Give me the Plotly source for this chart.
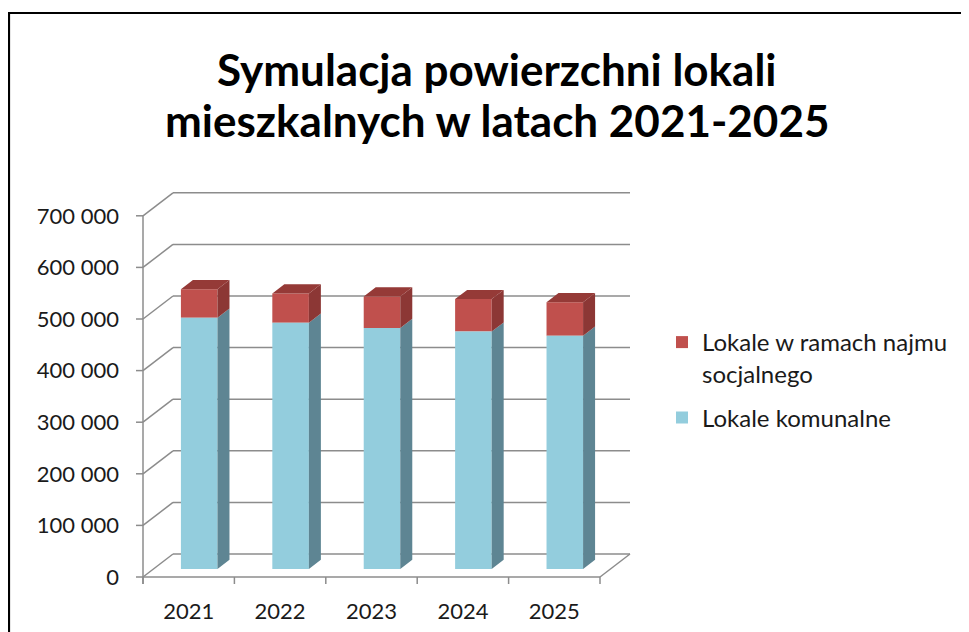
import plotly.graph_objects as go

# ---------------- data ----------------
years = ["2021", "2022", "2023", "2024", "2025"]
komunalne = [487000, 477000, 467000, 460000, 452000]
socjalne = [55000, 57000, 61000, 63000, 65000]
y_ticks = [0, 100000, 200000, 300000, 400000, 500000, 600000, 700000]
y_tick_text = ["0", "100 000", "200 000", "300 000", "400 000", "500 000", "600 000", "700 000"]
series_names = ["Lokale komunalne", "Lokale w ramach najmu<br>socjalnego"]
title_lines = ["Symulacja powierzchni lokali", "mieszkalnych w latach 2021-2025"]

# ---------------- layout geometry (reference pixels) ----------------
W, H = 969, 632
OFF = 8                                   # page body margin of the html page
PL, PR, PT, PB = 130, 645, 185, 590       # plot area
X0_PX, X_UNIT = 143, 91.4                 # front-left corner, px per category
Y0_PX, Y_UNIT = 577, 51.6                 # value 0 (front), px per 100 000
VPP = 100000 / Y_UNIT                     # value per pixel
DEPTH_DX_PX, DEPTH_DY_PX = 30, 23         # 3-D depth offset of back wall
BAR_FRONT, BAR_BACK = 0.35, 0.75          # bar depth fractions
BAR_W = 0.4

def xpx(p):
    return p / X_UNIT

def ypx(p):
    return p * VPP

def paper_x(p):
    return (p - PL) / (PR - PL)

def paper_y(p):
    return (PB - p) / (PB - PT)

x_range = [-0.5 - xpx(X0_PX - PL), -0.5 + xpx(PR - X0_PX)]
y_range = [-ypx(PB - Y0_PX), ypx(Y0_PX - PT)]
DX, DY = xpx(DEPTH_DX_PX), ypx(DEPTH_DY_PX)
n = len(years)
x_left_edge, x_right_edge = -0.5, n - 0.5

GRID = "#8c8c8c"
BLUE_F, BLUE_S = "#93CDDD", "#5E8593"
RED_F, RED_S, RED_T = "#C0504D", "#8C3735", "#953A37"
FONT = "Lato, Carlito, 'Open Sans', sans-serif"

shapes = []

def seg(x0, y0, x1, y1, color=GRID, width=1.5):
    shapes.append(dict(type="line", xref="x", yref="y", x0=x0, y0=y0, x1=x1, y1=y1,
                       line=dict(color=color, width=width), layer="below"))

# back wall gridlines, side-wall diagonals and value ticks
for v in y_ticks:
    seg(x_left_edge + DX, v + DY, x_right_edge + DX, v + DY)
    seg(x_left_edge, v, x_left_edge + DX, v + DY)
    seg(x_left_edge - xpx(7), v, x_left_edge, v)
# floor
seg(x_left_edge, 0, x_right_edge, 0)
seg(x_right_edge, 0, x_right_edge + DX, DY)
# front value axis
seg(x_left_edge, -ypx(7), x_left_edge, y_ticks[-1])
# category tick marks
for k in range(n + 1):
    seg(x_left_edge + k, 0, x_left_edge + k, -ypx(7))

# outer chart border
shapes.append(dict(type="rect", xref="paper", yref="paper",
                   x0=paper_x(9), y0=paper_y(H + 30), x1=paper_x(W + 30), y1=paper_y(13),
                   line=dict(color="black", width=2.2), fillcolor="rgba(0,0,0,0)", layer="above"))

fig = go.Figure()

xs = [i + BAR_FRONT * DX for i in range(n)]
base0 = BAR_FRONT * DY
fig.add_trace(go.Bar(x=xs, y=socjalne, base=[base0 + b for b in komunalne], width=BAR_W,
                     marker=dict(color=RED_F, line=dict(width=0)),
                     name=series_names[1], legendgroup="s", hoverinfo="skip"))
fig.add_trace(go.Bar(x=xs, y=komunalne, base=[base0] * n, width=BAR_W,
                     marker=dict(color=BLUE_F, line=dict(width=0)),
                     name=series_names[0], legendgroup="k", hoverinfo="skip"))

sdx = (BAR_BACK - BAR_FRONT) * DX
sdy = (BAR_BACK - BAR_FRONT) * DY

def side_poly(lows, highs):
    px, py = [], []
    for x, lo, hi in zip(xs, lows, highs):
        xr = x + BAR_W / 2
        px += [xr, xr + sdx, xr + sdx, xr, xr, None]
        py += [lo, lo + sdy, hi + sdy, hi, lo, None]
    return px, py

blue_lo = [base0] * n
blue_hi = [base0 + b for b in komunalne]
red_hi = [base0 + b + r for b, r in zip(komunalne, socjalne)]

bx, by = side_poly(blue_lo, blue_hi)
fig.add_trace(go.Scatter(x=bx, y=by, fill="toself", fillcolor=BLUE_S, mode="none",
                         showlegend=False, hoverinfo="skip"))
rx, ry = side_poly(blue_hi, red_hi)
fig.add_trace(go.Scatter(x=rx, y=ry, fill="toself", fillcolor=RED_S, mode="none",
                         showlegend=False, hoverinfo="skip"))
tx, ty = [], []
for x, top in zip(xs, red_hi):
    xl, xr = x - BAR_W / 2, x + BAR_W / 2
    tx += [xl, xl + sdx, xr + sdx, xr, xl, None]
    ty += [top, top + sdy, top + sdy, top, top, None]
fig.add_trace(go.Scatter(x=tx, y=ty, fill="toself", fillcolor=RED_T, mode="none",
                         showlegend=False, hoverinfo="skip"))

annotations = []
for txt, yc in zip(title_lines, [69, 120]):
    annotations.append(dict(text="<b>" + txt + "</b>", xref="paper", yref="paper",
                            x=paper_x(497), y=paper_y(yc), xanchor="center", yanchor="middle",
                            showarrow=False, font=dict(family=FONT, size=44, color="black")))

fig.update_layout(
    width=W, height=H,
    margin=dict(l=PL - OFF, r=W - (PR - OFF), t=PT - OFF, b=H - (PB - OFF), autoexpand=False),
    paper_bgcolor="white", plot_bgcolor="white",
    barmode="overlay",
    font=dict(family=FONT, color="#1a1a1a", size=22),
    xaxis=dict(range=x_range, tickvals=list(range(n)), ticktext=years, ticks="",
               showgrid=False, zeroline=False, showline=False, ticklabelstandoff=6,
               tickfont=dict(size=22), fixedrange=True),
    yaxis=dict(range=y_range, tickvals=y_ticks, ticktext=y_tick_text, ticks="",
               showgrid=False, zeroline=False, showline=False, ticklabelstandoff=10,
               tickfont=dict(size=22), fixedrange=True),
    legend=dict(x=paper_x(662), y=paper_y(320), xanchor="left", yanchor="top",
                font=dict(size=24, family=FONT), valign="top", traceorder="grouped",
                bgcolor="rgba(0,0,0,0)", tracegroupgap=10),
    shapes=shapes,
    annotations=annotations,
    showlegend=True,
)

fig.write_html("out.html")
